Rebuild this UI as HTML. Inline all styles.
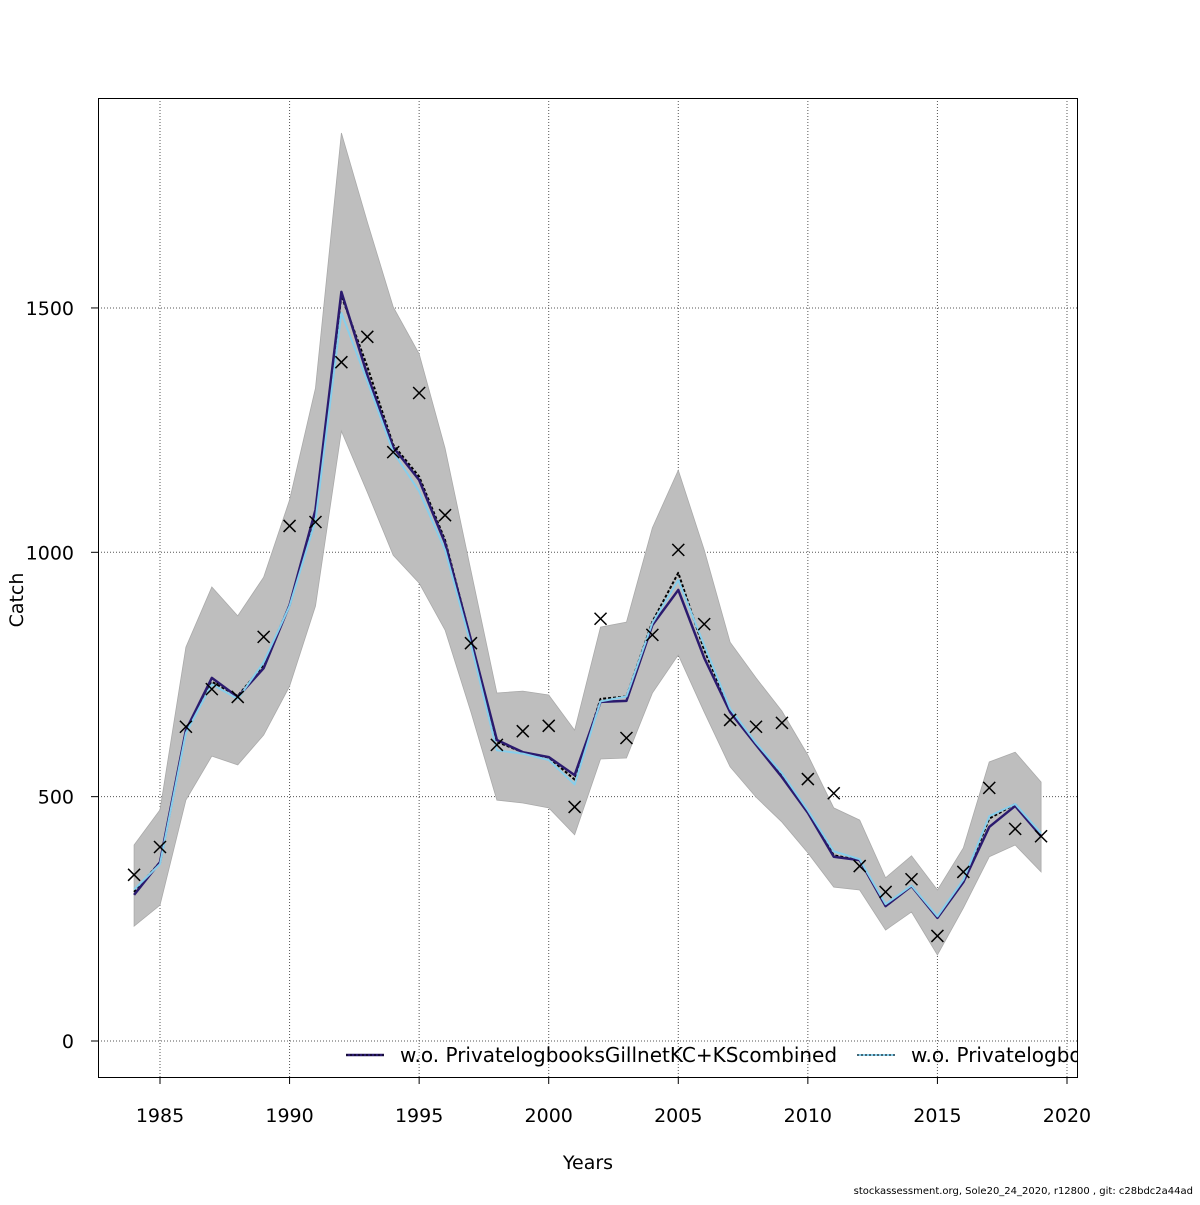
<!DOCTYPE html>
<html><head><meta charset="utf-8"><style>
html,body{margin:0;padding:0;background:#fff}
svg text{font-family:"DejaVu Sans","Liberation Sans",sans-serif}
</style></head><body>
<svg id="chart" width="1200" height="1200" viewBox="0 0 1200 1200">
<g id="grid"></g>
<g id="band"></g>
<g id="lines"></g>
<g id="points"></g>
<g id="axes"></g>
<text x="588" y="1169" font-size="19" text-anchor="middle">Years</text>
<text x="23" y="600" font-size="19" text-anchor="middle" transform="rotate(-90 23 600)">Catch</text>
<g>
<line x1="346" y1="1055" x2="384" y2="1055" stroke="#2b1a6e" stroke-width="2.5"/>
<line x1="346" y1="1055" x2="384" y2="1055" stroke="#000" stroke-width="1" stroke-dasharray="2,2"/>
<text x="400" y="1062" font-size="20">w.o. PrivatelogbooksGillnetKC+KScombined</text>
<line x1="857" y1="1055" x2="895" y2="1055" stroke="#87ceeb" stroke-width="2"/>
<line x1="857" y1="1055" x2="895" y2="1055" stroke="#000" stroke-width="1" stroke-dasharray="2,2"/>
<text x="911" y="1062" font-size="20">w.o. Privatelogbo</text>
<rect x="1078" y="1040" width="122" height="40" fill="#fff"/>
</g>
<rect x="98.5" y="98.5" width="979" height="979" fill="none" stroke="#000" stroke-width="1"/>
<text x="1193" y="1194" font-size="10" text-anchor="end">stockassessment.org, Sole20_24_2020, r12800 , git: c28bdc2a44ad</text>
</svg>
<script>
const years=[1984,1985,1986,1987,1988,1989,1990,1991,1992,1993,1994,1995,1996,1997,1998,1999,2000,2001,2002,2003,2004,2005,2006,2007,2008,2009,2010,2011,2012,2013,2014,2015,2016,2017,2018,2019];
const observed=[340,397,643,720,704,827,1054,1062,1389,1441,1205,1326,1076,814,606,634,645,479,864,620,831,1005,853,657,643,651,536,507,358,305,331,215,346,518,434,419];
const fitBase=[305,366,636,735,706,770,892,1075,1525,1380,1220,1155,1025,821,612,591,580,535,700,705,858,958,800,678,608,545,470,380,370,276,317,252,325,455,485,419];
const fitGillnet=[299,366,636,743,704,763,892,1087,1533,1363,1215,1148,1019,821,616,591,581,544,694,696,851,923,784,673,606,540,467,377,370,276,317,252,325,438,481,419];
const fitPrivate=[310,362,630,730,700,775,890,1065,1490,1350,1205,1125,1005,810,595,588,575,525,695,705,855,943,810,680,610,548,472,388,372,280,318,255,330,460,485,425];
const bandUpper=[401,473,806,929,870,949,1107,1336,1858,1676,1502,1406,1213,962,712,716,708,636,847,857,1050,1168,1005,816,743,675,585,477,452,334,379,309,395,571,591,530];
const bandLower=[235,278,493,583,565,626,726,890,1248,1123,994,937,841,673,493,487,477,422,577,579,712,790,673,561,499,448,385,315,309,227,264,176,272,377,401,346];
const xTicks=[1985,1990,1995,2000,2005,2010,2015,2020];
const yTicks=[0,500,1000,1500];

const NS='http://www.w3.org/2000/svg';
const X=y=>160+(y-1985)*25.914;
const Y=v=>1041-v*0.4887;
function mk(tag,attrs,parent){const e=document.createElementNS(NS,tag);for(const k in attrs)e.setAttribute(k,attrs[k]);document.getElementById(parent).appendChild(e);return e;}

xTicks.forEach(t=>{
 const g=mk('line',{x1:X(t),x2:X(t),y1:98,y2:1077,stroke:'#555','stroke-width':1,'stroke-dasharray':'1,2'},'grid');
 
 
 const tk=mk('line',{x1:X(t),x2:X(t),y1:1077,y2:1084,stroke:'#000'},'axes');
 
 
 const tx=mk('text',{x:X(t),y:1122,'font-size':19,'text-anchor':'middle'},'axes');
 tx.textContent=t;
 
 
});
yTicks.forEach(t=>{
 const g=mk('line',{x1:98,x2:1077,y1:Y(t),y2:Y(t),stroke:'#555','stroke-width':1,'stroke-dasharray':'1,2'},'grid');
 
 
 const tk=mk('line',{x1:91,x2:98,y1:Y(t),y2:Y(t),stroke:'#000'},'axes');
 
 
 const tx=mk('text',{x:74,y:Y(t)+7,'font-size':19,'text-anchor':'end'},'axes');
 tx.textContent=t;
 
 
});

let pts=years.map((y,i)=>X(y)+','+Y(bandUpper[i]));
for(let i=years.length-1;i>=0;i--)pts.push(X(years[i])+','+Y(bandLower[i]));
const band=mk('polygon',{points:pts.join(' '),fill:'#bebebe',stroke:'#aaa','stroke-width':0.8},'band');



function line(vals,color,w,dash,name){
 const l=mk('polyline',{points:years.map((y,i)=>X(y)+','+Y(vals[i])).join(' '),fill:'none',stroke:color,'stroke-width':w,'stroke-linejoin':'round'},'lines');
 if(dash)l.setAttribute('stroke-dasharray',dash);
 
 
}
line(fitBase,'#000',2,'3,2','fit-base-line');
line(fitGillnet,'#2b1a6e',2.5,null,'fit-gillnet-line');
line(fitPrivate,'#87ceeb',2,null,'fit-private-line');

years.forEach((y,i)=>{
 const cx=X(y),cy=Y(observed[i]),s=6;
 const p=mk('path',{d:`M${cx-s},${cy-s}L${cx+s},${cy+s}M${cx-s},${cy+s}L${cx+s},${cy-s}`,stroke:'#000','stroke-width':1.5,fill:'none'},'points');
 
 
});
</script>
</body></html>
